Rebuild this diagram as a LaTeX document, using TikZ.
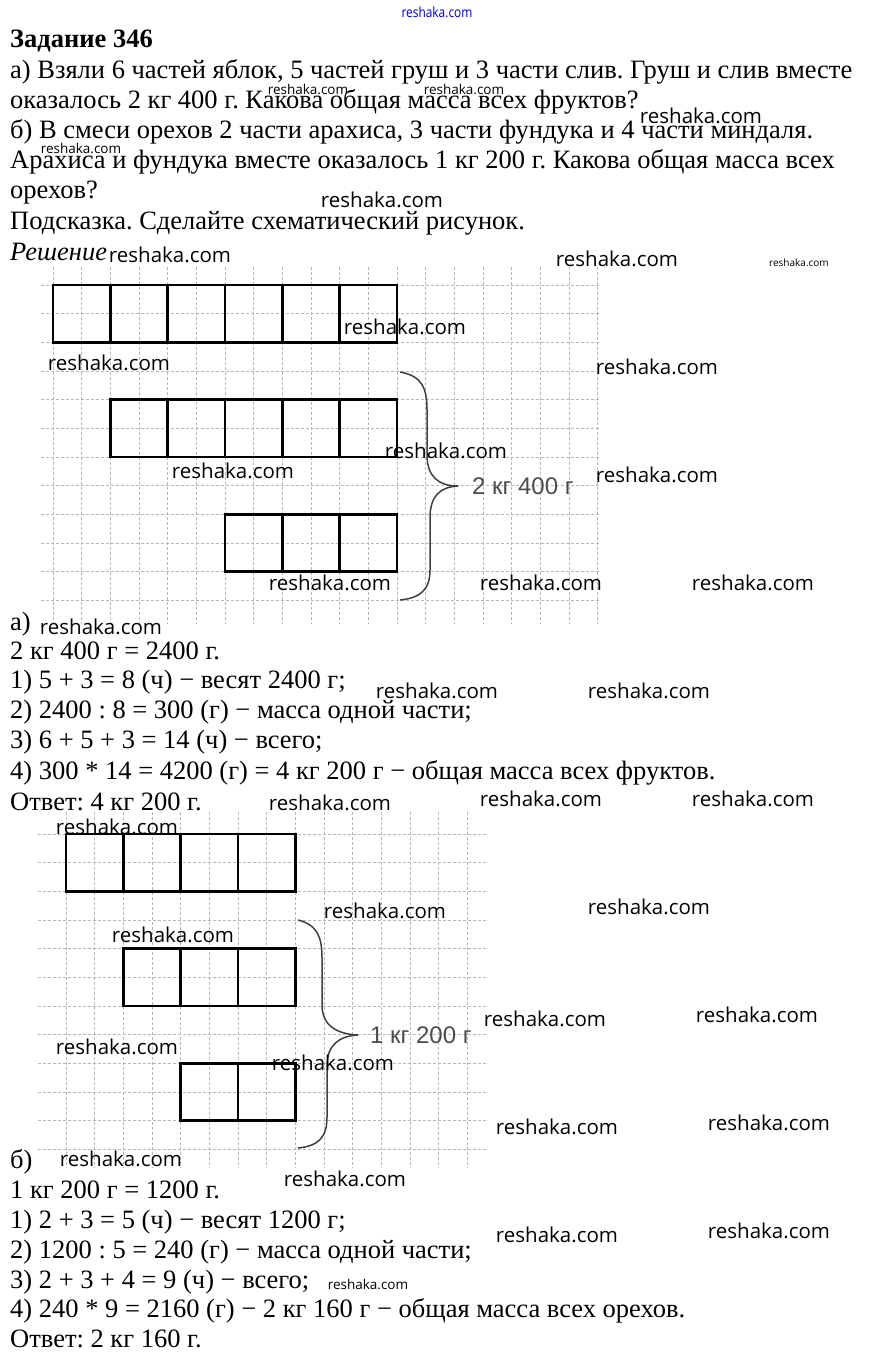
\documentclass[tikz,border=0pt]{standalone}
\usepackage{fontspec}
\setmainfont{Liberation Serif}
\newfontfamily\wmfont{Open Sans}
\newfontfamily\labfont{Liberation Sans}
\frenchspacing
\begin{document}
\begin{tikzpicture}[x=1pt,y=-1pt,
  txt/.style={anchor=base west, inner sep=0pt, font=\fontsize{26.5}{30}\selectfont},
  wm/.style={inner sep=0pt, font=\wmfont\fontsize{20.5}{24}\selectfont},
  wms/.style={inner sep=0pt, font=\wmfont\fontsize{13.5}{16}\selectfont},
  wmt/.style={inner sep=0pt, font=\wmfont\fontsize{10}{12}\selectfont},
  gridline/.style={draw=black!28, line width=0.8pt, dash pattern=on 3pt off 2pt},
  cellbox/.style={draw=black, line width=2.4pt},
  bracepath/.style={draw=black!75, line width=1.5pt},
  sumlabel/.style={inner sep=0pt, anchor=base west, text=black!70, font=\labfont\fontsize{24}{28}\selectfont}]
\useasboundingbox[fill=white] (0,0) rectangle (872,1366);
\def\g{28.667}
% ---------- grid 1 ----------
\foreach \k in {0,...,19} \draw[gridline] (53+\k*\g,267) -- (53+\k*\g,624);
\foreach \k in {0,...,11} \draw[gridline] (41,285+\k*\g) -- (600,285+\k*\g);
\foreach \i in {0,...,5} \draw[cellbox] (53+\i*2*\g,285) rectangle ++(2*\g,2*\g);
\foreach \i in {1,...,5} \draw[cellbox] (53+\i*2*\g,285+4*\g) rectangle ++(2*\g,2*\g);
\foreach \i in {3,...,5} \draw[cellbox] (53+\i*2*\g,285+8*\g) rectangle ++(2*\g,2*\g);
\draw[bracepath] (400,372) .. controls (422,376) and (427,388) .. (427,410) -- (427,455)
  .. controls (427,476) and (438,486) .. (458,486)
  .. controls (440,487) and (430,496) .. (430,518) -- (430,570)
  .. controls (430,590) and (420,598) .. (400,600);
\node[sumlabel] (s1) at (472,494) {2 кг 400 г};
% ---------- grid 2 ----------
\foreach \k in {0,...,14} \draw[gridline] (66+\k*\g,812) -- (66+\k*\g,1168);
\foreach \k in {0,...,11} \draw[gridline] (38,834+\k*\g) -- (487,834+\k*\g);
\foreach \i in {0,...,3} \draw[cellbox] (66+\i*2*\g,834) rectangle ++(2*\g,2*\g);
\foreach \i in {1,...,3} \draw[cellbox] (66+\i*2*\g,834+4*\g) rectangle ++(2*\g,2*\g);
\foreach \i in {2,...,3} \draw[cellbox] (66+\i*2*\g,834+8*\g) rectangle ++(2*\g,2*\g);
\draw[bracepath] (298,920) .. controls (318,925) and (322,938) .. (322,958) -- (322,1005)
  .. controls (322,1025) and (336,1034) .. (358,1035)
  .. controls (338,1036) and (327,1046) .. (327,1066) -- (327,1117)
  .. controls (327,1138) and (318,1146) .. (298,1148);
\node[sumlabel] (s2) at (370,1043) {1 кг 200 г};
% ---------- header text ----------
\node[txt, font=\bfseries\fontsize{26.5}{30}\selectfont] (h0) at (10,47) {Задание 346};
\node[txt] (h1) at (10,78) {а) Взяли 6 частей яблок, 5 частей груш и 3 части слив. Груш и слив вместе};
\node[txt] (h2) at (10,108) {оказалось 2 кг 400 г. Какова общая масса всех фруктов?};
\node[txt] (h3) at (10,138) {б) В смеси орехов 2 части арахиса, 3 части фундука и 4 части миндаля.};
\node[txt] (h4) at (10,168) {Арахиса и фундука вместе оказалось 1 кг 200 г. Какова общая масса всех};
\node[txt] (h5) at (10,198) {орехов?};
\node[txt] (h6) at (10,229) {Подсказка. Сделайте схематический рисунок.};
\node[txt, font=\itshape\fontsize{26.5}{30}\selectfont] (h7) at (10,260) {Решение};
% ---------- solution a ----------
\node[txt] (a0) at (10,630) {а)};
\node[txt] (a1) at (10,659) {2 кг 400 г = 2400 г.};
\node[txt] (a2) at (10,688) {1) 5 + 3 = 8 (ч) − весят 2400 г;};
\node[txt] (a3) at (10,718) {2) 2400 : 8 = 300 (г) − масса одной части;};
\node[txt] (a4) at (10,748) {3) 6 + 5 + 3 = 14 (ч) − всего;};
\node[txt] (a5) at (10,779) {4) 300 * 14 = 4200 (г) = 4 кг 200 г − общая масса всех фруктов.};
\node[txt] (a6) at (10,810) {Ответ: 4 кг 200 г.};
% ---------- solution b ----------
\node[txt] (b0) at (10,1168) {б)};
\node[txt] (b1) at (10,1198) {1 кг 200 г = 1200 г.};
\node[txt] (b2) at (10,1228) {1) 2 + 3 = 5 (ч) − весят 1200 г;};
\node[txt] (b3) at (10,1258) {2) 1200 : 5 = 240 (г) − масса одной части;};
\node[txt] (b4) at (10,1288) {3) 2 + 3 + 4 = 9 (ч) − всего;};
\node[txt] (b5) at (10,1317) {4) 240 * 9 = 2160 (г) − 2 кг 160 г − общая масса всех орехов.};
\node[txt] (b6) at (10,1347) {Ответ: 2 кг 160 г.};
% ---------- watermarks ----------
\node[inner sep=0pt, text=blue!75!black, font=\wmfont\fontsize{14}{16}\selectfont] (w0) at (437,12) {\scalebox{0.85}[1]{reshaka.com}};
\node[wms] (w1) at (308,89) {reshaka.com};
\node[wms] (w2) at (464,89) {reshaka.com};
\node[wm] (w3) at (701,116) {reshaka.com};
\node[wms] (w4) at (81,148) {reshaka.com};
\node[wm] (w5) at (382,200) {reshaka.com};
\node[wm] (w6) at (170,255) {reshaka.com};
\node[wm] (w7) at (617,259) {reshaka.com};
\node[wmt] (w8) at (799,263) {reshaka.com};
\node[wm] (w9) at (405,327) {reshaka.com};
\node[wm] (w10) at (109,363) {reshaka.com};
\node[wm] (w11) at (657,367) {reshaka.com};
\node[wm] (w12) at (446,451) {reshaka.com};
\node[wm] (w13) at (233,471) {reshaka.com};
\node[wm] (w14) at (657,475) {reshaka.com};
\node[wm] (w15) at (330,583) {reshaka.com};
\node[wm] (w16) at (541,583) {reshaka.com};
\node[wm] (w17) at (753,583) {reshaka.com};
\node[wm] (w18) at (101,627) {reshaka.com};
\node[wm] (w19) at (437,691) {reshaka.com};
\node[wm] (w20) at (649,691) {reshaka.com};
\node[wm] (w21) at (330,803) {reshaka.com};
\node[wm] (w22) at (541,799) {reshaka.com};
\node[wm] (w23) at (753,799) {reshaka.com};
\node[wm] (w24) at (117,827) {reshaka.com};
\node[wm] (w25) at (385,911) {reshaka.com};
\node[wm] (w26) at (649,907) {reshaka.com};
\node[wm] (w27) at (173,935) {reshaka.com};
\node[wm] (w28) at (545,1019) {reshaka.com};
\node[wm] (w29) at (757,1015) {reshaka.com};
\node[wm] (w30) at (117,1047) {reshaka.com};
\node[wm] (w31) at (333,1063) {reshaka.com};
\node[wm] (w32) at (557,1127) {reshaka.com};
\node[wm] (w33) at (769,1123) {reshaka.com};
\node[wm] (w34) at (121,1159) {reshaka.com};
\node[wm] (w35) at (345,1179) {reshaka.com};
\node[wm] (w36) at (557,1235) {reshaka.com};
\node[wm] (w37) at (769,1231) {reshaka.com};
\node[wms] (w38) at (368,1284) {reshaka.com};
\end{tikzpicture}
\end{document}
